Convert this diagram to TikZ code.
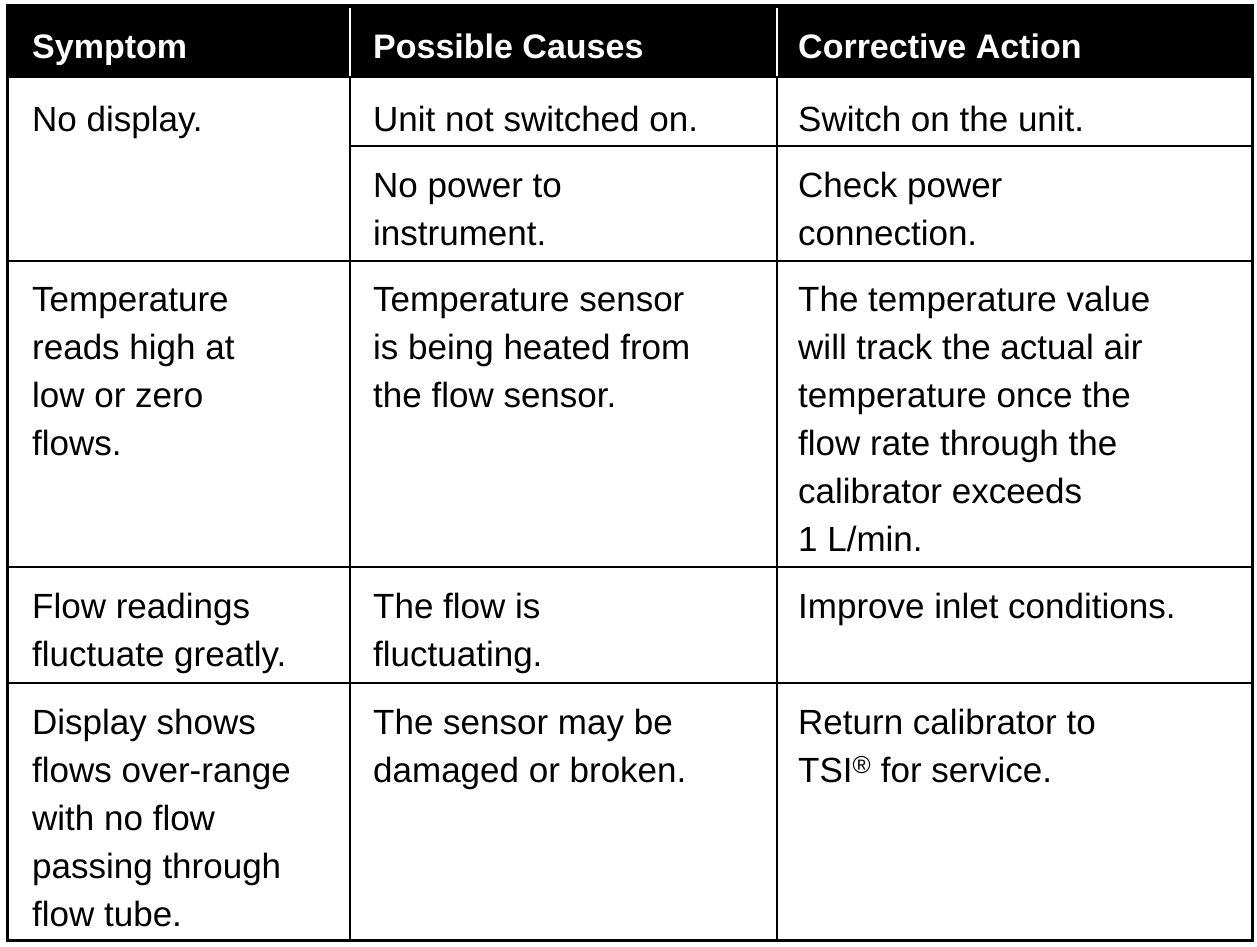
\documentclass[tikz,border=0pt]{standalone}
\usepackage{fontspec}
\setmainfont{Liberation Sans}
\begin{document}
\begin{tikzpicture}[x=1pt,y=-1pt,
  cell/.style={anchor=north west,inner sep=0pt,align=left,font=\fontsize{35}{48}\selectfont},
  head/.style={anchor=north west,inner sep=0pt,align=left,text=white,font=\fontsize{34}{48}\selectfont\bfseries},
  grid/.style={line width=2pt,black}]
\useasboundingbox (0,0) rectangle (1257,946);
\fill[black] (7,5) rectangle (1252,78);
\draw[white,line width=1.5pt] (350,8) -- (350,76) (777,8) -- (777,76);
\draw[grid,line width=3pt] (7,5) rectangle (1252,940);
\draw[grid] (350,78) -- (350,940) (777,78) -- (777,940);
\draw[grid] (350,146) -- (1252,146);
\draw[grid] (7,261) -- (1252,261) (7,567) -- (1252,567) (7,683) -- (1252,683);
\newcommand{\fl}{\rule{0pt}{27pt}}
\node[head] (h1) at (32,31) {\fl Symptom};
\node[head] (h2) at (373,31) {\fl Possible Causes};
\node[head] (h3) at (798,31) {\fl Corrective Action};
\node[cell] (a1) at (32,104) {\fl No display.};
\node[cell] (b1) at (373,104) {\fl Unit not switched on.};
\node[cell] (c1) at (798,104) {\fl Switch on the unit.};
\node[cell] (b2) at (373,170) {\fl No power to\\instrument.};
\node[cell] (c2) at (798,170) {\fl Check power\\connection.};
\node[cell] (a3) at (32,284) {\fl Temperature\\reads high at\\low or zero\\flows.};
\node[cell] (b3) at (373,284) {\fl Temperature sensor\\is being heated from\\the flow sensor.};
\node[cell] (c3) at (798,284) {\fl The temperature value\\will track the actual air\\temperature once the\\flow rate through the\\calibrator exceeds\\1 L/min.};
\node[cell] (a4) at (32,591) {\fl Flow readings\\fluctuate greatly.};
\node[cell] (b4) at (373,591) {\fl The flow is\\fluctuating.};
\node[cell] (c4) at (798,591) {\fl Improve inlet conditions.};
\node[cell] (a5) at (32,707) {\fl Display shows\\flows over-range\\with no flow\\passing through\\flow tube.};
\node[cell] (b5) at (373,707) {\fl The sensor may be\\damaged or broken.};
\node[cell] (c5) at (798,707) {\fl Return calibrator to\\TSI\textsuperscript{®} for service.};
\end{tikzpicture}
\end{document}
